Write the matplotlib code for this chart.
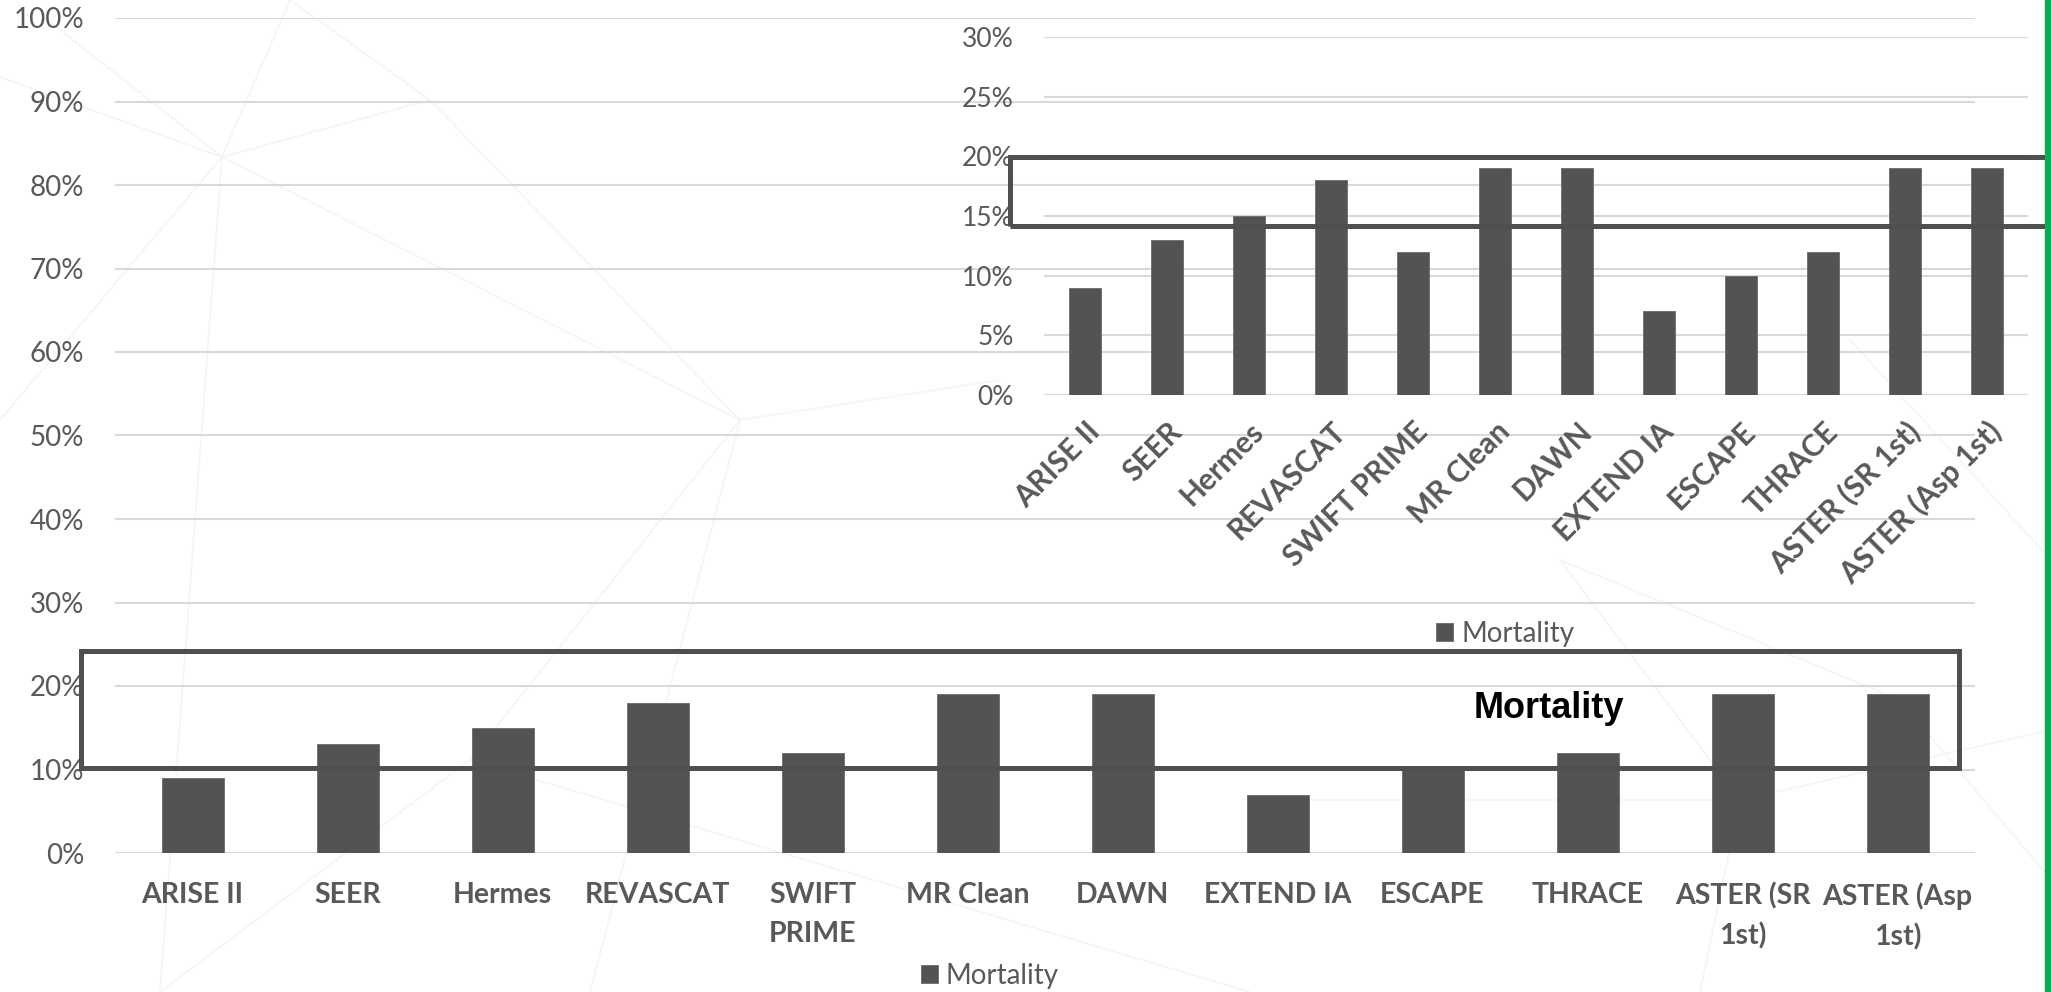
import matplotlib
matplotlib.use('Agg')
import matplotlib.pyplot as plt
from matplotlib.patches import Rectangle
from matplotlib.lines import Line2D
from matplotlib.ticker import FuncFormatter, MultipleLocator
from matplotlib.transforms import offset_copy

# trial names and mortality rates
trials = ['ARISE II', 'SEER', 'Hermes', 'REVASCAT', 'SWIFT PRIME', 'MR Clean', 'DAWN',
          'EXTEND IA', 'ESCAPE', 'THRACE', 'ASTER (SR 1st)', 'ASTER (Asp 1st)']
trials_wrapped = ['ARISE II', 'SEER', 'Hermes', 'REVASCAT', 'SWIFT\nPRIME', 'MR Clean', 'DAWN',
                  'EXTEND IA', 'ESCAPE', 'THRACE', 'ASTER (SR\n1st)', 'ASTER (Asp\n1st)']
mortality = [0.09, 0.13, 0.15, 0.18, 0.12, 0.19, 0.19, 0.07, 0.10, 0.12, 0.19, 0.19]
series_name = 'Mortality'

W, H = 2051, 992
BAR = '#535353'
TXT = '#595959'
GRID = '#d9d9d9'
FONT = 'Lato'


def to_percent(v, pos):
    return '%d%%' % round(v * 100)


def px_box(x0, y0, x1, y1):
    # pixel box (top-left origin) -> figure fraction [left, bottom, width, height]
    return [x0 / W, 1 - y1 / H, (x1 - x0) / W, (y1 - y0) / H]


fig = plt.figure(figsize=(W / 100, H / 100), dpi=100, facecolor='white')

# faint background mesh
mesh = [
    ((0, 77), (222, 157)), ((45, 18), (222, 157)), ((222, 157), (290, 0)),
    ((222, 157), (0, 420)), ((222, 157), (160, 992)), ((222, 157), (430, 100)),
    ((290, 0), (430, 100)), ((430, 100), (740, 420)), ((222, 157), (740, 420)),
    ((740, 420), (590, 992)), ((740, 420), (1000, 380)), ((160, 992), (470, 760)),
    ((470, 760), (740, 420)), ((470, 760), (1250, 992)), ((1740, 800), (1700, 992)),
    ((1740, 800), (2051, 730)), ((1740, 800), (1560, 560)), ((1900, 700), (2051, 880)),
    ((1560, 560), (1900, 700)), ((1850, 340), (2051, 560)), ((1300, 800), (1740, 800)),
]
for (xa, ya), (xb, yb) in mesh:
    fig.add_artist(Line2D([xa / W, xb / W], [1 - ya / H, 1 - yb / H], color='#f5f5f5',
                          lw=1.2, transform=fig.transFigure, zorder=0))

# main chart
ax = fig.add_axes(px_box(115, 18, 1975, 853))
ax.set_facecolor('none')
x = list(range(len(trials)))
ax.bar(x, mortality, width=0.4, color=BAR, edgecolor='#6a6a6a', linewidth=0.6,
       label=series_name, zorder=3)
ax.set_xlim(-0.5, len(trials) - 0.5)
ax.set_ylim(0, 1.0)
ax.yaxis.set_major_locator(MultipleLocator(0.1))
ax.yaxis.set_major_formatter(FuncFormatter(to_percent))
ax.yaxis.grid(True, color=GRID, lw=1.5, zorder=0)
ax.set_axisbelow(True)
for s in ax.spines.values():
    s.set_visible(False)
ax.set_xticks(x)
ax.set_xticklabels(trials_wrapped, fontsize=20.5, fontweight='bold', color=TXT,
                   family=FONT, linespacing=1.6, multialignment='center')
ax.tick_params(axis='x', length=0, pad=21)
ax.tick_params(axis='y', length=0, pad=22, labelsize=20, labelcolor=TXT)
for t in ax.get_yticklabels():
    t.set_family(FONT)
leg = ax.legend(loc='center', bbox_to_anchor=(990 / W, 1 - 976 / H), bbox_transform=fig.transFigure,
                frameon=False, handlelength=0.6, handleheight=0.6, handletextpad=0.3,
                prop={'family': FONT, 'size': 20})
for t in leg.get_texts():
    t.set_color(TXT)

# inset chart
ax2 = fig.add_axes(px_box(1044, 37, 2028, 395))
ax2.set_facecolor('none')
ax2.bar(x, mortality, width=0.39, color=BAR, edgecolor='#6a6a6a', linewidth=0.6,
        label=series_name, zorder=3)
ax2.set_xlim(-0.5, len(trials) - 0.5)
ax2.set_ylim(0, 0.30)
ax2.yaxis.set_major_locator(MultipleLocator(0.05))
ax2.yaxis.set_major_formatter(FuncFormatter(to_percent))
ax2.yaxis.grid(True, color=GRID, lw=1.5, zorder=0)
ax2.set_axisbelow(True)
for s in ax2.spines.values():
    s.set_visible(False)
ax2.set_xticks([])
ax2.tick_params(axis='y', length=0, pad=22, labelsize=19, labelcolor=TXT)
for t in ax2.get_yticklabels():
    t.set_family(FONT)
lab_tr = offset_copy(ax2.transData, fig=fig, x=10, y=-32, units='dots')
for i, name in enumerate(trials):
    ax2.text(i, 0, name, transform=lab_tr, rotation=45, ha='right', va='center',
             rotation_mode='anchor', fontsize=21.5, fontweight='bold', color=TXT, family=FONT)
leg2 = ax2.legend(loc='center', bbox_to_anchor=(1505 / W, 1 - 634 / H), bbox_transform=fig.transFigure,
                  frameon=False, handlelength=0.6, handleheight=0.6, handletextpad=0.3,
                  prop={'family': FONT, 'size': 20})
for t in leg2.get_texts():
    t.set_color(TXT)

# highlight boxes
for (x0, y0, x1, y1) in [(81, 651, 1959, 768), (1010, 157, 2070, 226)]:
    fig.add_artist(Rectangle((x0 / W, 1 - y1 / H), (x1 - x0) / W, (y1 - y0) / H,
                             transform=fig.transFigure, fill=False, edgecolor='#4f4f4f',
                             lw=3.6, zorder=5))
fig.text(1549 / W, 1 - 708 / H, series_name, ha='center', va='center', fontsize=26,
         fontweight='bold', color='black', family='Liberation Sans', zorder=6)

# green edge bar
fig.add_artist(Rectangle((2045 / W, 0), 6 / W, 1, transform=fig.transFigure,
                         color='#00b050', zorder=7))

fig.savefig('out.png', dpi=100, facecolor='white')
